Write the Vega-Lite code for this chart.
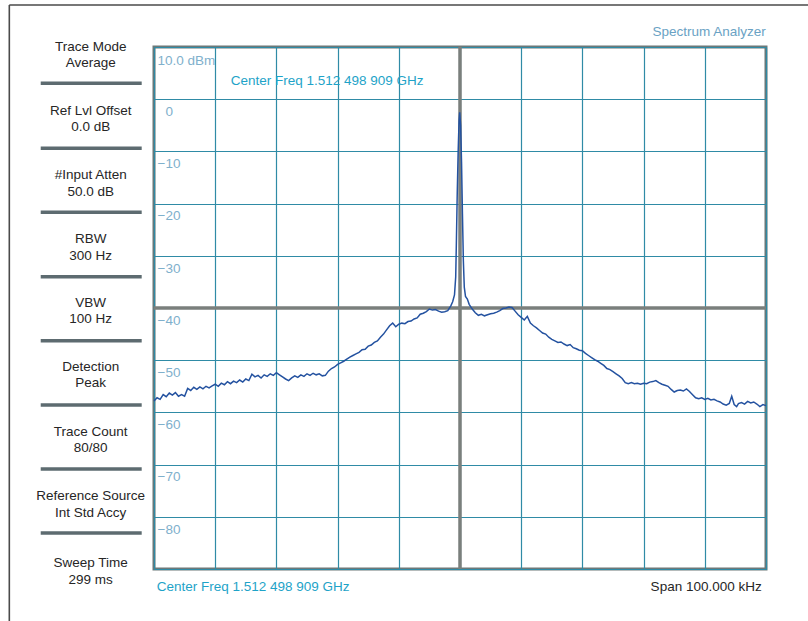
{
  "$schema": "https://vega.github.io/schema/vega-lite/v6.json",
  "width": 612,
  "height": 522,
  "autosize": {"type": "none"},
  "padding": {"left": 154, "top": 47, "right": 42, "bottom": 52},
  "background": "white",
  "view": {"stroke": "#6d7878", "strokeWidth": 3},
  "config": {"font": "Liberation Sans"},
  "datasets": {
    "trace": [
      {"f": -50, "p": -57.8}, {"f": -49.5, "p": -57.2}, {"f": -49, "p": -57.5}, {"f": -48.5, "p": -56.6}, {"f": -48, "p": -57.0},
      {"f": -47.5, "p": -56.3}, {"f": -47, "p": -56.7}, {"f": -46.5, "p": -56.2}, {"f": -46, "p": -56.9}, {"f": -45.5, "p": -56.6},
      {"f": -45, "p": -56.9}, {"f": -44.5, "p": -55.4}, {"f": -44, "p": -55.8}, {"f": -43.5, "p": -55.2}, {"f": -43, "p": -55.6},
      {"f": -42.5, "p": -55.1}, {"f": -42, "p": -55.5}, {"f": -41.5, "p": -55.0}, {"f": -41, "p": -55.3}, {"f": -40.5, "p": -54.9},
      {"f": -40, "p": -54.6}, {"f": -39.5, "p": -55.0}, {"f": -39, "p": -54.4}, {"f": -38.5, "p": -54.7}, {"f": -38, "p": -54.1},
      {"f": -37.5, "p": -54.5}, {"f": -37, "p": -54.0}, {"f": -36.5, "p": -54.3}, {"f": -36, "p": -53.8}, {"f": -35.5, "p": -54.2},
      {"f": -35, "p": -53.6}, {"f": -34.5, "p": -53.9}, {"f": -34, "p": -52.7}, {"f": -33.5, "p": -53.2}, {"f": -33, "p": -52.9},
      {"f": -32.5, "p": -53.4}, {"f": -32, "p": -52.8}, {"f": -31.5, "p": -53.1}, {"f": -31, "p": -52.6}, {"f": -30.5, "p": -52.9},
      {"f": -30, "p": -52.4}, {"f": -29.5, "p": -52.8}, {"f": -29, "p": -53.2}, {"f": -28.5, "p": -53.6}, {"f": -28, "p": -53.9},
      {"f": -27.5, "p": -53.4}, {"f": -27, "p": -53.0}, {"f": -26.5, "p": -53.3}, {"f": -26, "p": -52.8}, {"f": -25.5, "p": -53.1},
      {"f": -25, "p": -52.6}, {"f": -24.5, "p": -52.9}, {"f": -24, "p": -52.5}, {"f": -23.5, "p": -52.8}, {"f": -23, "p": -52.6},
      {"f": -22.5, "p": -53.0}, {"f": -22, "p": -52.9}, {"f": -21.5, "p": -52.1}, {"f": -21, "p": -51.6}, {"f": -20.5, "p": -51.3},
      {"f": -20, "p": -50.8}, {"f": -19.5, "p": -50.5}, {"f": -19, "p": -50.2}, {"f": -18.5, "p": -49.8}, {"f": -18, "p": -49.4},
      {"f": -17.5, "p": -49.1}, {"f": -17, "p": -48.8}, {"f": -16.5, "p": -48.5}, {"f": -16, "p": -48.0}, {"f": -15.5, "p": -47.9},
      {"f": -15, "p": -47.3}, {"f": -14.5, "p": -47.1}, {"f": -14, "p": -46.6}, {"f": -13.5, "p": -46.3}, {"f": -13, "p": -45.6},
      {"f": -12.5, "p": -45.0}, {"f": -12, "p": -44.2}, {"f": -11.5, "p": -43.4}, {"f": -11, "p": -42.9}, {"f": -10.5, "p": -43.6},
      {"f": -10, "p": -43.1}, {"f": -9.5, "p": -42.9}, {"f": -9, "p": -43.0}, {"f": -8.5, "p": -42.6}, {"f": -8, "p": -42.5},
      {"f": -7.5, "p": -42.1}, {"f": -7, "p": -41.9}, {"f": -6.5, "p": -41.2}, {"f": -6, "p": -41.0}, {"f": -5.5, "p": -40.7},
      {"f": -5, "p": -40.2}, {"f": -4.5, "p": -40.4}, {"f": -4, "p": -40.3}, {"f": -3.5, "p": -40.6}, {"f": -3, "p": -40.8},
      {"f": -2.5, "p": -40.7}, {"f": -2, "p": -40.5}, {"f": -1.5, "p": -39.6}, {"f": -1.2, "p": -38.8},
      {"f": -0.9, "p": -37.5}, {"f": -0.7, "p": -34.0}, {"f": -0.6, "p": -28.0}, {"f": -0.45, "p": -18.0}, {"f": -0.3, "p": -10.0},
      {"f": -0.15, "p": -4.0}, {"f": -0.05, "p": -2.5}, {"f": 0.1, "p": -5.0}, {"f": 0.25, "p": -12.0}, {"f": 0.4, "p": -22.0},
      {"f": 0.55, "p": -31.0}, {"f": 0.7, "p": -36.0}, {"f": 0.9, "p": -37.8}, {"f": 1.2, "p": -38.3},
      {"f": 1.5, "p": -39.3}, {"f": 2, "p": -40.2}, {"f": 2.5, "p": -40.9}, {"f": 3, "p": -41.4}, {"f": 3.5, "p": -41.2},
      {"f": 4, "p": -41.5}, {"f": 4.5, "p": -41.3}, {"f": 5, "p": -41.1}, {"f": 5.5, "p": -41.0}, {"f": 6, "p": -40.8},
      {"f": 6.5, "p": -40.5}, {"f": 7, "p": -40.1}, {"f": 7.5, "p": -40.0}, {"f": 8, "p": -39.8}, {"f": 8.5, "p": -39.9},
      {"f": 9, "p": -40.6}, {"f": 9.5, "p": -41.3}, {"f": 10, "p": -41.8}, {"f": 10.5, "p": -42.3}, {"f": 11, "p": -41.6},
      {"f": 11.5, "p": -42.9}, {"f": 12, "p": -43.4}, {"f": 12.5, "p": -43.8}, {"f": 13, "p": -44.3}, {"f": 13.5, "p": -44.8},
      {"f": 14, "p": -45.0}, {"f": 14.5, "p": -45.6}, {"f": 15, "p": -46.0}, {"f": 15.5, "p": -46.3}, {"f": 16, "p": -46.6},
      {"f": 16.5, "p": -46.5}, {"f": 17, "p": -46.9}, {"f": 17.5, "p": -47.2}, {"f": 18, "p": -47.0}, {"f": 18.5, "p": -47.6},
      {"f": 19, "p": -47.8}, {"f": 19.5, "p": -48.1}, {"f": 20, "p": -48.2}, {"f": 20.5, "p": -48.7}, {"f": 21, "p": -49.1},
      {"f": 21.5, "p": -49.5}, {"f": 22, "p": -49.9}, {"f": 22.5, "p": -50.2}, {"f": 23, "p": -50.6}, {"f": 23.5, "p": -51.0},
      {"f": 24, "p": -51.6}, {"f": 24.5, "p": -51.8}, {"f": 25, "p": -52.2}, {"f": 25.5, "p": -52.6}, {"f": 26, "p": -53.0},
      {"f": 26.5, "p": -53.5}, {"f": 27, "p": -54.3}, {"f": 27.5, "p": -54.5}, {"f": 28, "p": -54.3}, {"f": 28.5, "p": -54.5},
      {"f": 29, "p": -54.4}, {"f": 29.5, "p": -54.6}, {"f": 30, "p": -54.4}, {"f": 30.5, "p": -54.5}, {"f": 31, "p": -54.2},
      {"f": 31.5, "p": -54.1}, {"f": 32, "p": -53.9}, {"f": 32.5, "p": -54.3}, {"f": 33, "p": -54.6}, {"f": 33.5, "p": -54.8},
      {"f": 34, "p": -55.0}, {"f": 34.5, "p": -55.6}, {"f": 35, "p": -56.1}, {"f": 35.5, "p": -55.8}, {"f": 36, "p": -55.7},
      {"f": 36.5, "p": -55.9}, {"f": 37, "p": -55.5}, {"f": 37.5, "p": -56.0}, {"f": 38, "p": -56.6}, {"f": 38.5, "p": -57.2},
      {"f": 39, "p": -57.4}, {"f": 39.5, "p": -57.2}, {"f": 40, "p": -57.5}, {"f": 40.5, "p": -57.3}, {"f": 41, "p": -57.6},
      {"f": 41.5, "p": -57.5}, {"f": 42, "p": -57.8}, {"f": 42.5, "p": -58.0}, {"f": 43, "p": -58.4}, {"f": 43.5, "p": -58.6},
      {"f": 44, "p": -58.3}, {"f": 44.4, "p": -56.9}, {"f": 44.8, "p": -58.5}, {"f": 45.2, "p": -58.9}, {"f": 45.5, "p": -58.3},
      {"f": 46, "p": -58.1}, {"f": 46.5, "p": -58.4}, {"f": 47, "p": -57.9}, {"f": 47.5, "p": -58.2}, {"f": 48, "p": -58.0},
      {"f": 48.5, "p": -58.4}, {"f": 49, "p": -58.9}, {"f": 49.5, "p": -58.5}, {"f": 50, "p": -58.7}
    ],
    "panel": [
      {"t": "Trace Mode", "p": 10.06}, {"t": "Average", "p": 6.88},
      {"t": "Ref Lvl Offset", "p": -2.2}, {"t": "0.0 dB", "p": -5.38},
      {"t": "#Input Atten", "p": -14.52}, {"t": "50.0 dB", "p": -17.72},
      {"t": "RBW", "p": -26.84}, {"t": "300 Hz", "p": -30.04},
      {"t": "VBW", "p": -39.1}, {"t": "100 Hz", "p": -42.16},
      {"t": "Detection", "p": -51.36}, {"t": "Peak", "p": -54.43},
      {"t": "Trace Count", "p": -63.7}, {"t": "80/80", "p": -66.88},
      {"t": "Reference Source", "p": -76.02}, {"t": "Int Std Accy", "p": -79.21},
      {"t": "Sweep Time", "p": -88.91}, {"t": "299 ms", "p": -92.11}
    ],
    "seps": [
      {"p": 3.05}, {"p": -9.41}, {"p": -21.67}, {"p": -34.0},
      {"p": -46.26}, {"p": -58.58}, {"p": -70.84}, {"p": -83.1}
    ]
  },
  "layer": [
    {
      "data": {"name": "trace"},
      "mark": {"type": "line", "opacity": 0},
      "encoding": {
        "x": {
          "field": "f", "type": "quantitative", "title": null,
          "scale": {"domain": [-50, 50], "nice": false, "zero": false},
          "axis": {
            "values": [-50, -40, -30, -20, -10, 0, 10, 20, 30, 40, 50],
            "grid": true, "gridColor": "#2f8ba6", "gridWidth": 1.2, "gridOpacity": 1,
            "labels": false, "ticks": false, "tickSize": 0, "domain": false, "title": null
          }
        },
        "y": {
          "field": "p", "type": "quantitative", "title": null,
          "scale": {"domain": [-90, 10], "nice": false, "zero": false},
          "axis": {
            "values": [-90, -80, -70, -60, -50, -40, -30, -20, -10, 0, 10],
            "grid": true, "gridColor": "#2f8ba6", "gridWidth": 1.2, "gridOpacity": 1,
            "ticks": false, "tickSize": 0, "domain": false, "title": null,
            "labelAlign": "left", "labelBaseline": "middle",
            "labelPadding": {"condition": {"test": "datum.value == 0", "value": -11}, "value": -3},
            "labelOffset": {"condition": {"test": "datum.value == 10", "value": 13.5}, "value": 12.2},
            "labelColor": "#7fb0cc", "labelFont": "Liberation Sans", "labelFontSize": 13.5,
            "labelOverlap": false, "labelBound": false, "labelFlush": false,
            "labelExpr": "datum.value == 10 ? '10.0 dBm' : datum.value == -90 ? '' : datum.label"
          }
        }
      }
    },
    {
      "data": {"values": [{}]},
      "mark": {"type": "rule", "color": "#4a4a4a", "strokeWidth": 1.6},
      "encoding": {
        "x": {"datum": -73.64, "type": "quantitative", "title": null},
        "y": {"datum": 18.05, "type": "quantitative", "title": null},
        "y2": {"datum": -102}
      }
    },
    {
      "data": {"values": [{}]},
      "mark": {"type": "rule", "color": "#4a4a4a", "strokeWidth": 1.6},
      "encoding": {
        "x": {"datum": -73.64, "type": "quantitative", "title": null},
        "x2": {"datum": 60},
        "y": {"datum": 18.05, "type": "quantitative", "title": null}
      }
    },
    {
      "data": {"name": "seps"},
      "mark": {"type": "rule", "color": "#5d6b70", "strokeWidth": 3.5},
      "encoding": {
        "x": {"datum": -68.51, "type": "quantitative", "title": null},
        "x2": {"datum": -52.01},
        "y": {"field": "p", "type": "quantitative", "title": null}
      }
    },
    {
      "data": {"name": "panel"},
      "mark": {"type": "text", "align": "center", "baseline": "middle", "fontSize": 13.5, "color": "#262626", "font": "Liberation Sans"},
      "encoding": {
        "x": {"datum": -60.34, "type": "quantitative", "title": null},
        "y": {"field": "p", "type": "quantitative", "title": null},
        "text": {"field": "t"}
      }
    },
    {
      "data": {"values": [{"t": "Spectrum Analyzer", "f": 49.95, "p": 12.93}]},
      "mark": {"type": "text", "align": "right", "baseline": "middle", "fontSize": 13.5, "color": "#6aa2c4"},
      "encoding": {
        "x": {"field": "f", "type": "quantitative", "title": null},
        "y": {"field": "p", "type": "quantitative", "title": null},
        "text": {"field": "t"}
      }
    },
    {
      "data": {"values": [{"t": "Center Freq 1.512 498 909 GHz", "f": -37.47, "p": 3.54}, {"t": "Center Freq 1.512 498 909 GHz", "f": -49.56, "p": -93.39}]},
      "mark": {"type": "text", "align": "left", "baseline": "middle", "fontSize": 13.5, "color": "#1ea3c8"},
      "encoding": {
        "x": {"field": "f", "type": "quantitative", "title": null},
        "y": {"field": "p", "type": "quantitative", "title": null},
        "text": {"field": "t"}
      }
    },
    {
      "data": {"values": [{"t": "Span 100.000 kHz", "f": 49.3, "p": -93.39}]},
      "mark": {"type": "text", "align": "right", "baseline": "middle", "fontSize": 13.5, "color": "#262626"},
      "encoding": {
        "x": {"field": "f", "type": "quantitative", "title": null},
        "y": {"field": "p", "type": "quantitative", "title": null},
        "text": {"field": "t"}
      }
    },
    {
      "data": {"values": [{}]},
      "mark": {"type": "rule", "color": "#7a7f7c", "strokeWidth": 3.5},
      "encoding": {
        "x": {"datum": 0, "type": "quantitative", "title": null}
      }
    },
    {
      "data": {"values": [{}]},
      "mark": {"type": "rule", "color": "#7a7f7c", "strokeWidth": 3.5},
      "encoding": {
        "y": {"datum": -40, "type": "quantitative", "title": null}
      }
    },
    {
      "data": {"name": "trace"},
      "mark": {"type": "line", "color": "#2452a0", "strokeWidth": 1.5},
      "encoding": {
        "x": {"field": "f", "type": "quantitative", "title": null},
        "y": {"field": "p", "type": "quantitative", "title": null}
      }
    }
  ]
}
